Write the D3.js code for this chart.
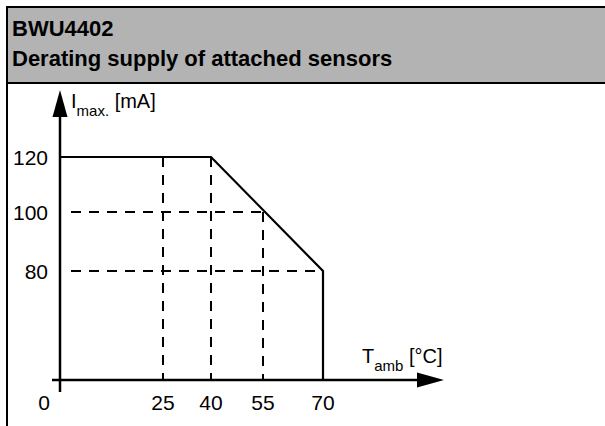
<!DOCTYPE html>
<html>
<head>
<meta charset="utf-8">
<script src="https://cdn.jsdelivr.net/npm/d3@7"></script>
<style>
  body { margin: 0; background: #fff; }
  svg { display: block; font-family: "Liberation Sans", Arial, sans-serif; }
</style>
</head>
<body>
<svg id="chart"></svg>
<script>
// derating curve (ambient temperature in °C, max current in mA)
const curveT = [0, 40, 70, 70];
const curveI = [120, 120, 80, 0];
// dashed guide lines
const guideVerticals = [{ t: 25, from: 120 }, { t: 40, from: 120 }, { t: 55, from: 100 }];
const guideHorizontals = [{ i: 100, to: 55 }, { i: 80, to: 70 }];
const xTicks = [0, 25, 40, 55, 70];
const yTicks = [80, 100, 120];
const titleLines = ['BWU4402', 'Derating supply of attached sensors'];

const width = 605, height = 426;
const svg = d3.select('#chart').attr('width', width).attr('height', height);

// frame + grey header
svg.append('rect')
  .attr('x', 7).attr('y', 7).attr('width', 620).attr('height', 440)
  .attr('fill', '#fff').attr('stroke', '#000').attr('stroke-width', 2);
svg.append('rect')
  .attr('x', 8).attr('y', 8).attr('width', 620).attr('height', 74)
  .attr('fill', '#b3b3b3');
svg.append('line')
  .attr('x1', 7).attr('x2', 620).attr('y1', 83).attr('y2', 83)
  .attr('stroke', '#000').attr('stroke-width', 2);

svg.selectAll('.title')
  .data(titleLines)
  .join('text')
  .attr('class', 'title')
  .attr('x', 12)
  .attr('y', (d, i) => 36 + i * 30)
  .attr('font-size', 22)
  .attr('font-weight', 'bold')
  .text((d) => d);

// schematic scales (the source drawing is not to scale)
const x = d3.scaleLinear().domain([0, 25, 40, 55, 70]).range([60, 163, 211, 263, 323]);
const y = d3.scaleLinear().domain([0, 80, 100, 120]).range([380, 271, 212, 157]);

const chart = svg.append('g');

// dashed guides
chart.selectAll('.gv')
  .data(guideVerticals)
  .join('line')
  .attr('class', 'gv')
  .attr('x1', (d) => x(d.t)).attr('x2', (d) => x(d.t))
  .attr('y1', (d) => y(d.from)).attr('y2', y(0))
  .attr('stroke', '#000').attr('stroke-width', 2)
  .attr('stroke-dasharray', '10 8');
chart.selectAll('.gh')
  .data(guideHorizontals)
  .join('line')
  .attr('class', 'gh')
  .attr('x1', x(0) + 11).attr('x2', (d) => x(d.to))
  .attr('y1', (d) => y(d.i)).attr('y2', (d) => y(d.i))
  .attr('stroke', '#000').attr('stroke-width', 2)
  .attr('stroke-dasharray', '10 8');

// derating curve
const line = d3.line().x((d) => x(d[0])).y((d) => y(d[1]));
chart.append('path')
  .datum(curveT.map((t, i) => [t, curveI[i]]))
  .attr('d', line)
  .attr('fill', 'none')
  .attr('stroke', '#000')
  .attr('stroke-width', 2.2);

// axes with arrow heads
chart.append('line')
  .attr('x1', x(0)).attr('x2', x(0)).attr('y1', 392).attr('y2', 112)
  .attr('stroke', '#000').attr('stroke-width', 2.5);
chart.append('path')
  .attr('d', `M${x(0)},90 L${x(0) - 7.5},117 L${x(0) + 7.5},117 Z`)
  .attr('fill', '#000');
chart.append('line')
  .attr('x1', 52).attr('x2', 420).attr('y1', y(0)).attr('y2', y(0))
  .attr('stroke', '#000').attr('stroke-width', 2.5);
chart.append('path')
  .attr('d', `M444,${y(0)} L417,${y(0) - 7.5} L417,${y(0) + 7.5} Z`)
  .attr('fill', '#000');

// tick labels
chart.selectAll('.ylab')
  .data(yTicks)
  .join('text')
  .attr('class', 'ylab')
  .attr('x', 48)
  .attr('y', (d) => y(d) + 7.5)
  .attr('text-anchor', 'end')
  .attr('font-size', 21)
  .text((d) => d);

chart.selectAll('.xlab')
  .data(xTicks)
  .join('text')
  .attr('class', 'xlab')
  .attr('x', (d) => (d === 0 ? 44 : x(d)))
  .attr('y', 410)
  .attr('text-anchor', 'middle')
  .attr('font-size', 21)
  .text((d) => d);

// axis titles
const yTitle = chart.append('text').attr('x', 71).attr('y', 108).attr('font-size', 20);
yTitle.append('tspan').text('I');
yTitle.append('tspan').attr('dy', 8).attr('font-size', 15).text('max.');
yTitle.append('tspan').attr('dy', -8).text(' [mA]');

const xTitle = chart.append('text').attr('x', 362).attr('y', 363).attr('font-size', 20);
xTitle.append('tspan').text('T');
xTitle.append('tspan').attr('dy', 8).attr('font-size', 15).text('amb');
xTitle.append('tspan').attr('dy', -8).text(' [°C]');
</script>
</body>
</html>
